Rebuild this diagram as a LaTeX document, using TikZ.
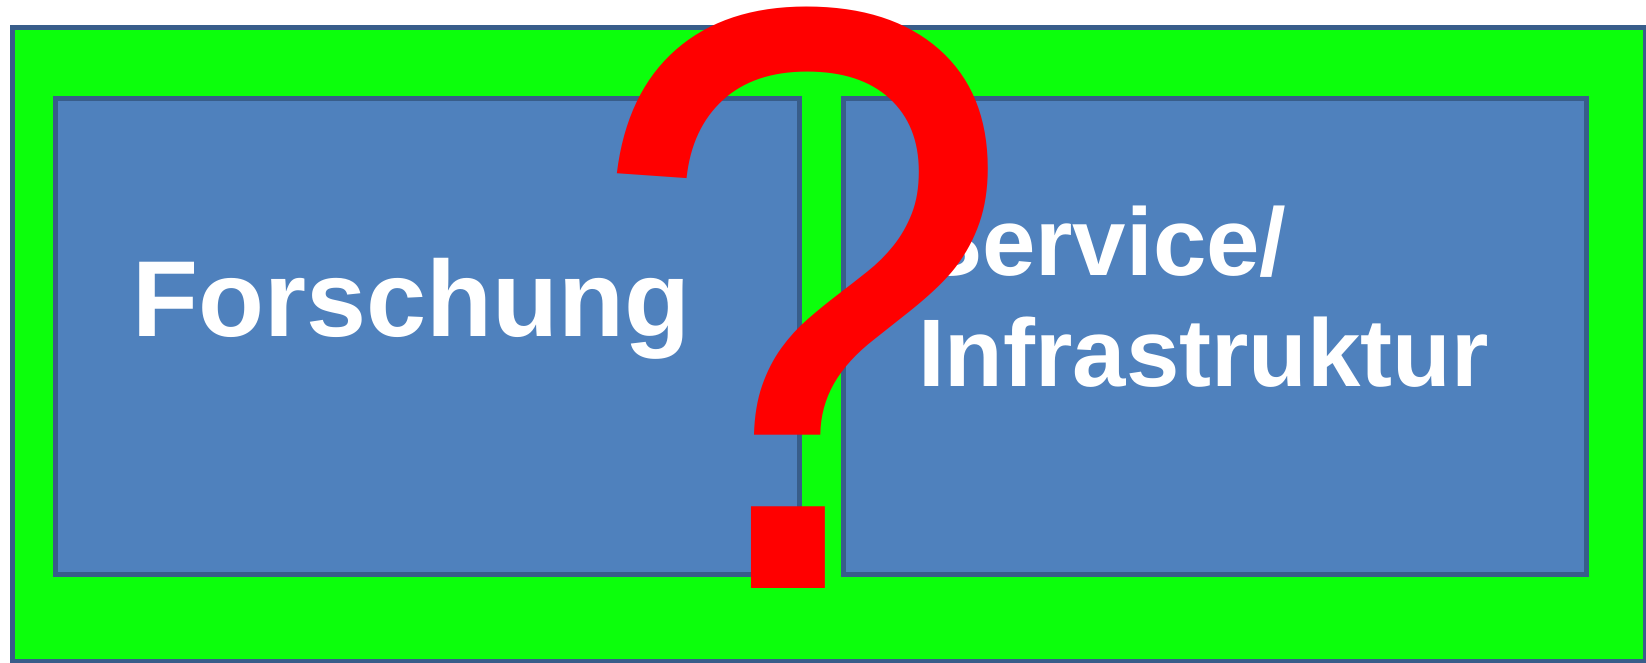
\documentclass[tikz,border=0pt]{standalone}
\usepackage{fontspec}
\setmainfont{Liberation Sans}
\definecolor{bggreen}{RGB}{12,255,12}
\definecolor{boxblue}{RGB}{79,129,189}
\definecolor{boxedge}{RGB}{56,93,138}
\definecolor{qred}{RGB}{255,0,0}
\tikzset{
  frame/.style={draw=boxedge, line width=5pt, rectangle, inner sep=0pt},
  boxtext/.style={text=white, font=\bfseries, inner sep=0pt, anchor=base west},
}
\begin{document}
\begin{tikzpicture}[x=1pt,y=-1pt]
\useasboundingbox (0,0) rectangle (1646,662);
\node[frame, fill=bggreen, minimum width=1632.5pt, minimum height=634pt] (outer) at (828.75,344.5) {};
\node[frame, fill=boxblue, minimum width=744pt, minimum height=476pt] (left) at (427.5,336.5) {};
\node[frame, fill=boxblue, minimum width=743pt, minimum height=476pt] (right) at (1215,336.5) {};
\node[boxtext, font=\bfseries\fontsize{108}{124}\selectfont] (forschung) at (132,336) {Forschung};
\node[boxtext, font=\bfseries\fontsize{96}{110}\selectfont] (service) at (918,275) {Service/};
\node[boxtext, font=\bfseries\fontsize{96}{110}\selectfont] (infra) at (918,386) {Infrastruktur};
\node[text=qred, inner sep=0pt, anchor=base, font=\fontsize{800}{800}\selectfont] (qmark) at (801,588) {\scalebox{0.97}[1.041]{?}};
\end{tikzpicture}
\end{document}
